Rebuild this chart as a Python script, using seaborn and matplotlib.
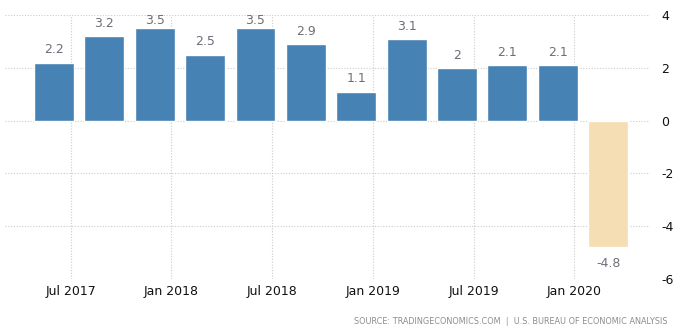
import matplotlib
matplotlib.use("Agg")
import matplotlib.pyplot as plt
import seaborn as sns
import pandas as pd

quarters = ["2017Q2", "2017Q3", "2017Q4", "2018Q1", "2018Q2", "2018Q3",
            "2018Q4", "2019Q1", "2019Q2", "2019Q3", "2019Q4", "2020Q1"]
values = [2.2, 3.2, 3.5, 2.5, 3.5, 2.9, 1.1, 3.1, 2.0, 2.1, 2.1, -4.8]
tick_labels = ["Jul 2017", "Jan 2018", "Jul 2018", "Jan 2019", "Jul 2019", "Jan 2020"]
y_ticks = [4, 2, 0, -2, -4, -6]

df = pd.DataFrame({"quarter": quarters, "value": values})
df["sign"] = ["pos" if v >= 0 else "neg" for v in values]

sns.set_theme(style="white")
fig = plt.figure(figsize=(6.84, 3.34), dpi=100)
ax = fig.add_axes([5 / 684, 55 / 334, 645 / 684, 264 / 334])

sns.barplot(data=df, x="quarter", y="value", hue="sign",
            palette={"pos": "#4682B4", "neg": "#F5DEB3"},
            dodge=False, width=0.79, legend=False, ax=ax, saturation=1)

for i, v in enumerate(values):
    y = min(v + 0.48, 3.8) if v >= 0 else v - 0.6
    ax.text(i, y, f"{v:g}", ha="center", va="center",
            fontsize=9, color="#6e6e78")

ax.set_xlim(-0.97, 11.83)
ax.set_ylim(-6, 4)
ax.set_xticks([0.33 + 2 * k for k in range(len(tick_labels))])
ax.set_xticklabels(tick_labels, fontsize=9, color="#111111")
ax.set_yticks(y_ticks)
ax.set_yticklabels([str(t) for t in y_ticks], fontsize=9, color="#111111")
ax.yaxis.tick_right()
ax.tick_params(axis="both", length=0, pad=4)
ax.tick_params(axis="y", pad=8)
ax.set_xlabel("")
ax.set_ylabel("")
for s in ax.spines.values():
    s.set_visible(False)
ax.grid(True, linestyle=(0, (1, 1.5)), color="#cccccc", linewidth=0.8)
ax.set_axisbelow(True)

fig.text(668 / 684, 1 - 321 / 334, "SOURCE: TRADINGECONOMICS.COM  |  U.S. BUREAU OF ECONOMIC ANALYSIS",
         ha="right", va="center", fontsize=5.9, color="#8c8c8c")

fig.savefig("out.png", dpi=100)
